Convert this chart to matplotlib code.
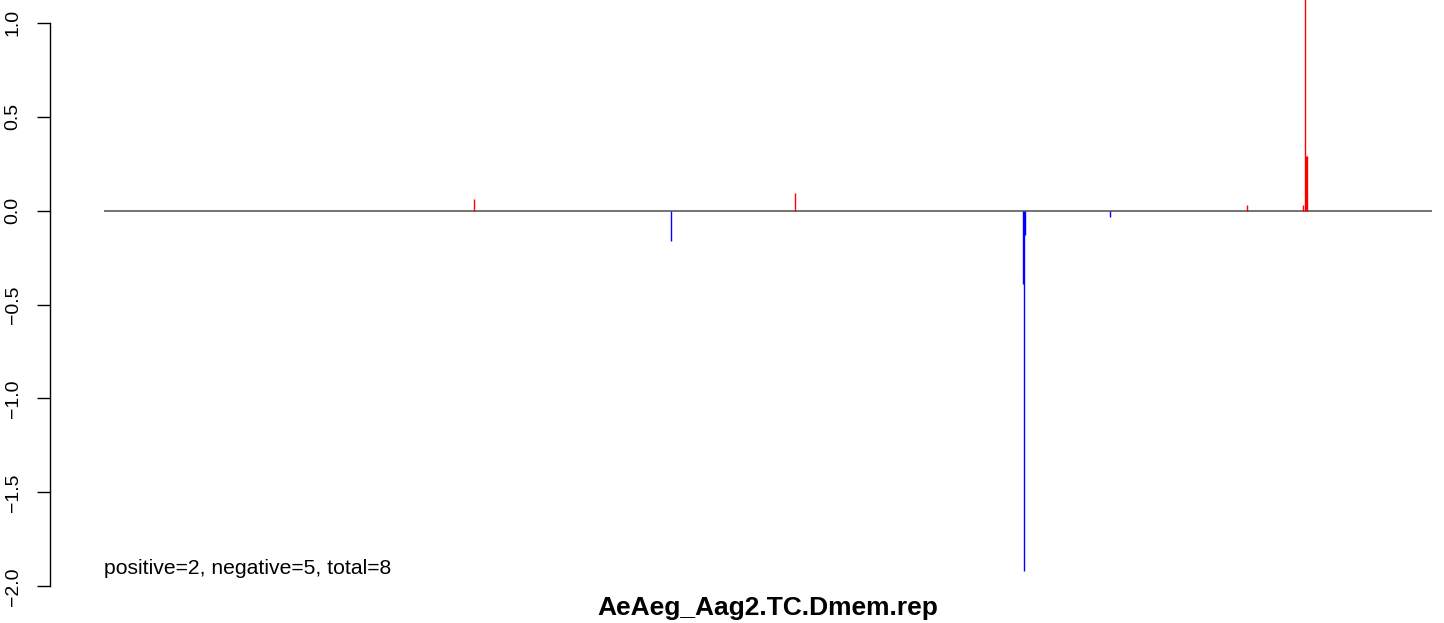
import numpy as np
import matplotlib.pyplot as plt

# positions along the track (0..1000) and signal values
pos = [278.6, 427.2, 520.6, 692.2, 693.0, 693.7, 757.8, 860.9, 903.1, 904.6, 905.4, 906.0]
val = [0.062, -0.163, 0.092, -0.39, -1.92, -0.128, -0.035, 0.03, 0.03, 1.25, 0.29, 0.29]
track = [0, 1000]
yticks = [-2.0, -1.5, -1.0, -0.5, 0.0, 0.5, 1.0]
summary = "positive=2, negative=5, total=8"
title = "AeAeg_Aag2.TC.Dmem.rep"

plt.rcParams['font.family'] = ['Liberation Sans', 'DejaVu Sans']

W, H = 1444, 623
fig = plt.figure(figsize=(W / 100, H / 100), dpi=100)
ax = fig.add_axes([50 / W, (H - 609) / H, (W - 50) / W, 609 / H])

pos = np.array(pos)
val = np.array(val)
cols = np.where(val > 0, '#FF0000', '#0000FF')

ax.hlines(0, track[0], track[1], color='#4d4d4d', lw=1.1)
ax.vlines(pos, 0, val, colors=cols, lw=1.0)

ax.set_xlim(-40.7, 1009.0)
ax.set_ylim(-2.12, 1.12)

for s in ['top', 'right', 'bottom']:
    ax.spines[s].set_visible(False)
ax.spines['left'].set_bounds(-2, 1)
ax.spines['left'].set_linewidth(1.0)
ax.set_xticks([])
ax.set_yticks(yticks)
ax.set_yticklabels([('%.1f' % t).replace('-', '\u2212') for t in yticks],
                   rotation=90, va='center', fontsize=14)
ax.tick_params(axis='y', length=9.5, width=1.0, pad=11)

ax.text(0, -1.905, summary, fontsize=15.2, va='center', ha='left')
fig.text((104 + 1432) / 2 / W, 1 - 608 / H, title, fontsize=19, fontweight='bold',
         ha='center', va='center')

plt.savefig('out.png', dpi=100)
